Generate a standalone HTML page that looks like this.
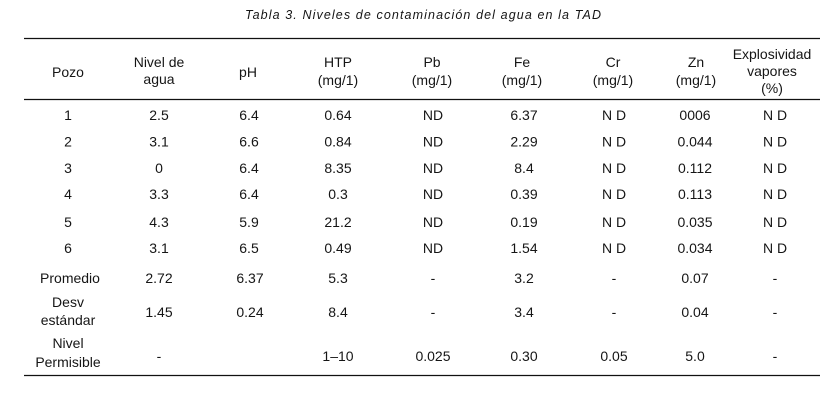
<!DOCTYPE html>
<html><head><meta charset="utf-8">
<style>
html,body{margin:0;padding:0;background:#fff;}
svg{display:block;}
text{font-family:"Liberation Sans",sans-serif;font-size:14px;fill:#151515;}
.c text{text-anchor:middle;}
.t{font-style:italic;font-size:12.5px;}
</style></head><body>
<svg width="838" height="400" viewBox="0 0 838 400" xmlns="http://www.w3.org/2000/svg">
<rect width="838" height="400" fill="#fff"/>
<text class="t" x="245" y="19" textLength="356" lengthAdjust="spacing">Tabla 3. Niveles de contaminación del agua en la TAD</text>
<line x1="24" y1="38.5" x2="820" y2="38.5" stroke="#111" stroke-width="1.2"/>
<line x1="24" y1="99.5" x2="820" y2="99.5" stroke="#111" stroke-width="1.2"/>
<line x1="24" y1="375.5" x2="820" y2="375.5" stroke="#111" stroke-width="1.2"/>
<g class="c">
<!-- header -->
<text x="68" y="77">Pozo</text>
<text x="159" y="67">Nivel de</text><text x="159" y="84">agua</text>
<text x="248" y="77">pH</text>
<text x="338" y="67">HTP</text><text x="338" y="85">(mg/1)</text>
<text x="432" y="67">Pb</text><text x="432" y="85">(mg/1)</text>
<text x="522" y="67">Fe</text><text x="522" y="85">(mg/1)</text>
<text x="613" y="67">Cr</text><text x="613" y="85">(mg/1)</text>
<text x="696" y="67">Zn</text><text x="696" y="85">(mg/1)</text>
<text x="772" y="59">Explosividad</text><text x="772" y="76">vapores</text><text x="772" y="93">(%)</text>

<!-- row 1 -->
<g transform="translate(0,120)">
<text x="68">1</text><text x="159">2.5</text><text x="249">6.4</text><text x="338">0.64</text><text x="433">ND</text><text x="524">6.37</text><text x="614">N D</text><text x="695">0006</text><text x="775">N D</text>
</g>
<g transform="translate(0,146.5)">
<text x="68">2</text><text x="159">3.1</text><text x="249">6.6</text><text x="338">0.84</text><text x="433">ND</text><text x="524">2.29</text><text x="614">N D</text><text x="695">0.044</text><text x="775">N D</text>
</g>
<g transform="translate(0,173)">
<text x="68">3</text><text x="159">0</text><text x="249">6.4</text><text x="338">8.35</text><text x="433">ND</text><text x="524">8.4</text><text x="614">N D</text><text x="695">0.112</text><text x="775">N D</text>
</g>
<g transform="translate(0,199)">
<text x="68">4</text><text x="159">3.3</text><text x="249">6.4</text><text x="338">0.3</text><text x="433">ND</text><text x="524">0.39</text><text x="614">N D</text><text x="695">0.113</text><text x="775">N D</text>
</g>
<g transform="translate(0,227)">
<text x="68">5</text><text x="159">4.3</text><text x="249">5.9</text><text x="338">21.2</text><text x="433">ND</text><text x="524">0.19</text><text x="614">N D</text><text x="695">0.035</text><text x="775">N D</text>
</g>
<g transform="translate(0,253)">
<text x="68">6</text><text x="159">3.1</text><text x="249">6.5</text><text x="338">0.49</text><text x="433">ND</text><text x="524">1.54</text><text x="614">N D</text><text x="695">0.034</text><text x="775">N D</text>
</g>
<g transform="translate(0,283)">
<text x="70">Promedio</text><text x="159">2.72</text><text x="250">6.37</text><text x="338">5.3</text><text x="433">-</text><text x="524">3.2</text><text x="614">-</text><text x="695">0.07</text><text x="775">-</text>
</g>
<text x="68" y="307">Desv</text><text x="68" y="325">estándar</text>
<g transform="translate(0,317)">
<text x="159">1.45</text><text x="250">0.24</text><text x="338">8.4</text><text x="433">-</text><text x="524">3.4</text><text x="614">-</text><text x="695">0.04</text><text x="775">-</text>
</g>
<text x="68" y="348">Nivel</text><text x="68" y="367">Permisible</text>
<g transform="translate(0,361)">
<text x="159">-</text><text x="338">1–10</text><text x="433">0.025</text><text x="524">0.30</text><text x="614">0.05</text><text x="695">5.0</text><text x="775">-</text>
</g>
</g>
</svg>
</body></html>
